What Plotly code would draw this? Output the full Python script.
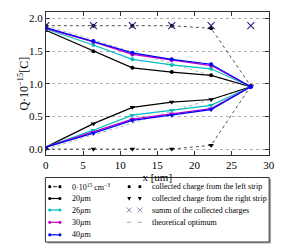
import plotly.graph_objects as go

# ---------------- data ----------------
x_pos = [0, 6.4, 11.65, 16.95, 22.25, 27.6]

left_0 = [1.89, 1.89, 1.89, 1.89, 1.85, 0.965]
right_0 = [0.0, 0.0, 0.0, 0.0, 0.06, 0.965]

left_20 = [1.82, 1.50, 1.245, 1.18, 1.13, 0.955]
left_26 = [1.84, 1.595, 1.375, 1.29, 1.23, 0.955]
left_30 = [1.85, 1.64, 1.45, 1.36, 1.28, 0.955]
left_40 = [1.86, 1.655, 1.475, 1.375, 1.30, 0.955]

right_20 = [0.03, 0.39, 0.64, 0.72, 0.76, 0.955]
right_26 = [0.03, 0.29, 0.52, 0.595, 0.67, 0.955]
right_30 = [0.03, 0.26, 0.46, 0.54, 0.62, 0.955]
right_40 = [0.03, 0.245, 0.44, 0.52, 0.605, 0.955]

summ = [1.89, 1.89, 1.89, 1.89, 1.89, 1.89]

opt_left = [1.89, 1.67, 1.49, 1.31, 1.13, 0.945]
opt_right = [0.0, 0.22, 0.40, 0.58, 0.76, 0.945]

series_names = ["20<i>µ</i>m", "26<i>µ</i>m", "30<i>µ</i>m", "40<i>µ</i>m"]
series_colors = ["#000000", "#00bfbf", "#bf00bf", "#0000ff"]
lefts = [left_20, left_26, left_30, left_40]
rights = [right_20, right_26, right_30, right_40]

x_ticks = [0, 5, 10, 15, 20, 25, 30]
y_ticks = [0.0, 0.5, 1.0, 1.5, 2.0]
y_tick_text = ["0.0", "0.5", "1.0", "1.5", "2.0"]

# ---------------- figure ----------------
W, H = 287, 244
FONT = "Liberation Serif"


def X(px):
    return px / W


def Y(py):
    return 1 - py / H


fig = go.Figure()

opt_style = dict(color="#a0a0a0", width=0.8, dash="3px,3px")
fig.add_trace(go.Scatter(x=x_pos, y=opt_left, mode="lines", line=opt_style, showlegend=False))
fig.add_trace(go.Scatter(x=x_pos, y=opt_right, mode="lines", line=opt_style, showlegend=False))

dash0 = dict(color="#222222", width=0.8, dash="3px,3px")
fig.add_trace(go.Scatter(x=x_pos, y=left_0, mode="lines+markers", line=dash0,
                         marker=dict(symbol="circle", size=4, color="black"), showlegend=False))
fig.add_trace(go.Scatter(x=x_pos, y=right_0, mode="lines+markers", line=dash0,
                         marker=dict(symbol="triangle-down", size=5, color="black"), showlegend=False))

for name, col, lv, rv in zip(series_names, series_colors, lefts, rights):
    fig.add_trace(go.Scatter(x=x_pos, y=lv, mode="lines+markers", name=name,
                             line=dict(color=col, width=1.2),
                             marker=dict(symbol="circle", size=4, color=col), showlegend=False))
    fig.add_trace(go.Scatter(x=x_pos, y=rv, mode="lines+markers", name=name,
                             line=dict(color=col, width=1.2),
                             marker=dict(symbol="triangle-down", size=5, color=col), showlegend=False))

fig.add_trace(go.Scatter(x=x_pos, y=summ, mode="markers",
                         marker=dict(symbol="x-thin", size=7, line=dict(color="#23237d", width=1.1)),
                         showlegend=False))

axis_common = dict(showline=True, mirror="allticks", linecolor="#333333", linewidth=1,
                   ticks="inside", ticklen=4, tickcolor="#333333",
                   tickfont=dict(family=FONT, size=11, color="black"), zeroline=False)

fig.update_xaxes(domain=[X(36), X(266)], range=[0, 30], tickvals=x_ticks,
                 showgrid=False,
                 title=dict(text="x [um]", standoff=0, font=dict(family=FONT, size=11, color="black")),
                 **axis_common)
fig.update_yaxes(domain=[Y(147), Y(4)], range=[-0.09, 2.1], tickvals=y_ticks,
                 ticktext=y_tick_text, showgrid=True, gridcolor="#b0b0b0", griddash="dot",
                 gridwidth=1, **axis_common)

shapes = []
annotations = []

annotations.append(dict(x=X(12), y=Y(76), xref="paper", yref="paper",
                        text="Q·10<sup>−15</sup>[C]", textangle=-90,
                        showarrow=False, font=dict(family=FONT, size=12, color="black"),
                        xanchor="center", yanchor="middle"))

# legend box with shadow
shapes.append(dict(type="rect", xref="paper", yref="paper", x0=X(37.5), x1=X(268.5),
                   y0=Y(235.5), y1=Y(171), fillcolor="#aaaaaa", line=dict(width=0), layer="above"))
shapes.append(dict(type="rect", xref="paper", yref="paper", x0=X(35.5), x1=X(266.5),
                   y0=Y(234), y1=Y(169.5), fillcolor="white",
                   line=dict(color="#333333", width=1), layer="above"))

rows = [178.7, 190.5, 202, 214.3, 226.8]
LFONT = dict(family=FONT, size=8, color="black")


def dot(px, py, col, r=1.6):
    shapes.append(dict(type="circle", xref="paper", yref="paper", x0=X(px - r), x1=X(px + r),
                       y0=Y(py + r), y1=Y(py - r), fillcolor=col, line=dict(width=0), layer="above"))


def tri(px, py, col, r=2.0):
    path = "M {:.5f},{:.5f} L {:.5f},{:.5f} L {:.5f},{:.5f} Z".format(
        X(px - r), Y(py - r * 0.8), X(px + r), Y(py - r * 0.8), X(px), Y(py + r * 1.1))
    shapes.append(dict(type="path", xref="paper", yref="paper", path=path, fillcolor=col,
                       line=dict(width=0), layer="above"))


def cross(px, py, col, r=2.5):
    for a, b in (((px - r, py - r), (px + r, py + r)), ((px - r, py + r), (px + r, py - r))):
        shapes.append(dict(type="line", xref="paper", yref="paper", x0=X(a[0]), y0=Y(a[1]),
                           x1=X(b[0]), y1=Y(b[1]), line=dict(color=col, width=0.9), layer="above"))


def seg(x0, x1, py, col, dash="solid", w=1.2):
    shapes.append(dict(type="line", xref="paper", yref="paper", x0=X(x0), x1=X(x1),
                       y0=Y(py), y1=Y(py), line=dict(color=col, width=w, dash=dash), layer="above"))


def label(px, py, text):
    annotations.append(dict(x=X(px), y=Y(py), xref="paper", yref="paper", text=text,
                            showarrow=False, font=LFONT, xanchor="left", yanchor="middle"))


# left column
left_labels = ["0·10<sup>15</sup> cm<sup>−3</sup>"] + series_names
left_colors = ["#000000"] + series_colors
for i, (txt, col) in enumerate(zip(left_labels, left_colors)):
    py = rows[i]
    if i == 0:
        seg(43.5, 47.5, py, col, w=0.9)
    else:
        seg(40, 50.5, py, col)
    dot(40, py, col)
    dot(50.5, py, col)
    label(61, py, txt)

# right column
right_labels = ["collected charge from the left strip", "collected charge from the right strip",
                "summ of the collected charges", "theoretical optimum"]
dot(122, rows[0], "black")
dot(133, rows[0], "black")
tri(122, rows[1], "black")
tri(133, rows[1], "black")
cross(122, rows[2], "#7a7a99")
cross(133, rows[2], "#7a7a99")
seg(119.5, 124, rows[3], "#a0a0a0", w=0.9)
seg(130.5, 135, rows[3], "#a0a0a0", w=0.9)
for i, txt in enumerate(right_labels):
    label(143, rows[i], txt)

fig.update_layout(width=W, height=H, margin=dict(l=0, r=0, t=0, b=0),
                  paper_bgcolor="white", plot_bgcolor="white",
                  shapes=shapes, annotations=annotations,
                  font=dict(family=FONT, color="black"), showlegend=False)

fig.write_html("out.html")
